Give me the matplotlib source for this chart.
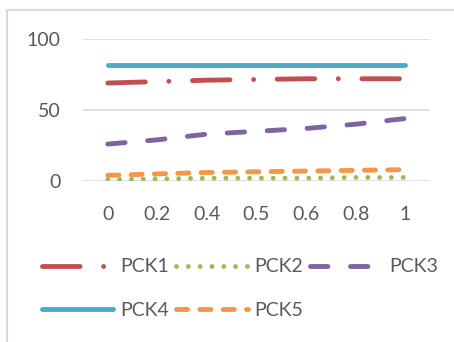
import matplotlib.pyplot as plt
from matplotlib.patches import Rectangle

plt.rcParams['font.family'] = ['Lato', 'DejaVu Sans']
plt.rcParams['lines.scale_dashes'] = False

categories = ['0', '0.2', '0.4', '0.5', '0.6', '0.8', '1']
pck1 = [69, 70, 71, 71.5, 72, 72, 72]
pck2 = [1, 1.5, 2, 2, 2, 2.5, 2.5]
pck3 = [26, 29, 33, 35, 37, 40, 44]
pck4 = [82, 82, 82, 82, 82, 82, 82]
pck5 = [4, 5, 6, 6.5, 7, 7.5, 8]
names = ['PCK1', 'PCK2', 'PCK3', 'PCK4', 'PCK5']

series = [pck1, pck2, pck3, pck4, pck5]
colors = ['#C0504D', '#9BBB59', '#8064A2', '#4BACC6', '#F79646']
dashes = [(27, 17, 0.01, 17), (0.01, 8.5), (12.5, 16.3), None, (8, 8.8)]
text_color = '#595959'

fig = plt.figure(figsize=(4.54, 3.42), dpi=100)
ax = fig.add_axes([83 / 454, 1 - 181 / 342, (430 - 83) / 454, (181 - 39) / 342])

x = range(len(categories))
lines = {}
for name, vals, c, d in zip(names, series, colors, dashes):
    ln, = ax.plot(x, vals, color=c, lw=3.5, solid_capstyle='round',
                  dash_capstyle='round', label=name)
    if d is not None:
        ln.set_dashes(d)
    lines[name] = ln

ax.set_xlim(-0.5, len(categories) - 0.5)
ax.set_ylim(0, 100)
ax.set_yticks([0, 50, 100])
ax.set_xticks(list(x))
ax.set_xticklabels(categories)
ax.yaxis.grid(True, color='#D9D9D9', lw=1.2)
ax.set_axisbelow(True)
for s in ax.spines.values():
    s.set_visible(False)
ax.tick_params(length=0, labelsize=14, labelcolor=text_color)
ax.tick_params(axis='x', pad=18)
ax.tick_params(axis='y', pad=16)

# chart frame
fig.patches.append(Rectangle((7 / 454, -0.1), 1.2, 1 - 10 / 342 + 0.1,
                             transform=fig.transFigure, fill=False,
                             edgecolor='#D9D9D9', lw=1.5))

order = ['PCK1', 'PCK4', 'PCK2', 'PCK5', 'PCK3']
leg = fig.legend([lines[n] for n in order], order, ncol=3, frameon=False,
                 loc='upper left', bbox_to_anchor=(24 / 454, 1 - 241 / 342),
                 fontsize=14, handlelength=3.7, handletextpad=0.35,
                 columnspacing=0.35, labelspacing=1.35)
for t in leg.get_texts():
    t.set_color(text_color)

fig.savefig('out.png', dpi=100)
